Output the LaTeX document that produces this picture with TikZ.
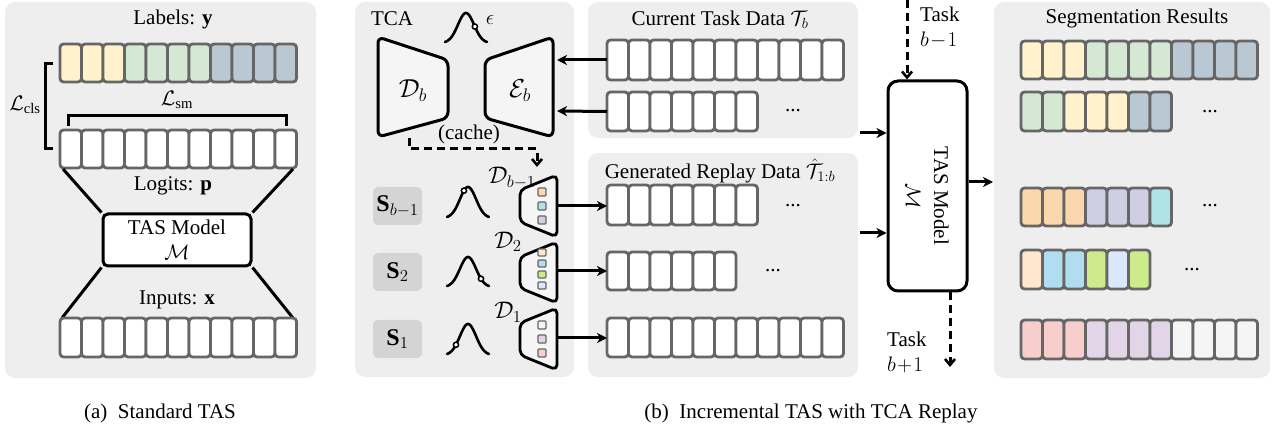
\RequirePackage{fix-cm}
\documentclass[tikz,border=0pt]{standalone}
\usepackage{fontspec}
\setmainfont{Liberation Serif}
\usetikzlibrary{arrows.meta}
\definecolor{panelbg}{HTML}{EEEEEE}
\definecolor{cellgray}{HTML}{666666}
\definecolor{decfill}{HTML}{F5F5F5}
\definecolor{sbox}{HTML}{D4D4D4}
\definecolor{cY}{HTML}{FFF2CC}
\definecolor{cG}{HTML}{D5E8D4}
\definecolor{cB}{HTML}{BAC8D3}
\definecolor{cO}{HTML}{FAD7AC}
\definecolor{cP}{HTML}{D0CEE2}
\definecolor{cC}{HTML}{B0E3E6}
\definecolor{cLO}{HTML}{FFE6CC}
\definecolor{cBl}{HTML}{B1DDF0}
\definecolor{cLi}{HTML}{CDEB8B}
\definecolor{cLB}{HTML}{DAE8FC}
\definecolor{cPk}{HTML}{F8CECC}
\definecolor{cLP}{HTML}{E1D5E7}
\definecolor{cLG}{HTML}{F5F5F5}
\newcommand{\segbar}[5]{%
  \foreach \c [count=\i from 0] in {#5}{%
    \draw[cellst, fill=\c] ({#2+\i*21.5},#3) rectangle ({#2+\i*21.5+21.5},#4);
  }%
  \coordinate (#1) at (#2,{(#3+#4)/2});%
}
\newcommand{\gaussc}[5]{%
  \draw[gss] plot[domain=-2.6:2.6,samples=50,smooth] ({#1+\x*#4/2.6},{#3-(#3-#2)*exp(-(\x)^2/2)});
  \draw[mrk] ({#1+(#5)*#4/2.6},{#3-(#3-#2)*exp(-((#5)^2)/2)}) circle (2.6);
}
\begin{document}
\begin{tikzpicture}[x=1pt,y=-1pt,
  every node/.style={font=\fontsize{21}{25}\selectfont, inner sep=0pt},
  big/.style={font=\fontsize{26}{30}\selectfont},
  mid/.style={font=\fontsize{24}{28}\selectfont},
  panel/.style={fill=panelbg, rounded corners=10pt},
  cellst/.style={draw=cellgray, line width=2.8pt, rounded corners=3.5pt},
  brk/.style={line width=3pt, line join=miter},
  arr/.style={line width=3pt, -{Stealth[length=10pt,width=10pt,inset=3pt]}},
  darr/.style={line width=3pt, dash pattern=on 8pt off 5pt, -{Straight Barb[length=6pt,width=10pt,line width=2.6pt]}},
  dec/.style={draw=black, fill=decfill, line width=3pt, rounded corners=6pt, line join=round},
  sdec/.style={draw=black, fill=decfill, line width=2.8pt, rounded corners=5pt, line join=round},
  sq/.style={draw=cellgray, line width=1.2pt, rounded corners=1pt},
  tasbox/.style={draw=black, fill=white, line width=3pt, rounded corners=5pt},
  sbx/.style={fill=sbox, rounded corners=5pt, minimum width=49pt, minimum height=38pt},
  gss/.style={line width=2.6pt, line cap=round},
  mrk/.style={draw=black, fill=white, line width=1.5pt}]
\path[use as bounding box] (0,0) rectangle (1272,430);

% ---------------- panel (a)
\path[panel] (5,2) rectangle (316,378);
\node (lblY) at (173,19) {Labels: $\mathbf{y}$};
\segbar{labY}{60}{44}{82}{cY,cY,cY,cG,cG,cG,cG,cB,cB,cB,cB}
\draw[brk] (53,64) -- (45,64) -- (45,149) -- (53,149);
\node (Lcls) at (25,105) {$\mathcal{L}_{\mathrm{cls}}$};
\draw[brk] (68,126) -- (68,116) -- (286,116) -- (286,126);
\node (Lsm) at (177,100) {$\mathcal{L}_{\mathrm{sm}}$};
\segbar{logit}{60}{130}{168}{white,white,white,white,white,white,white,white,white,white,white}
\node (lblP) at (173,186) {Logits: $\mathbf{p}$};
\node[tasbox, minimum width=148pt, minimum height=52pt, align=center] (tasA) at (177,240) {TAS Model\\[0pt]$\mathcal{M}$};
\coordinate (la1) at (63,169);
\coordinate (la2) at (293,169);
\coordinate (lb1) at (62,318);
\coordinate (lb2) at (293,318);
\draw[brk] (la1) -- (tasA.north west);
\draw[brk] (la2) -- (tasA.north east);
\draw[brk] (lb1) -- (tasA.south west);
\draw[brk] (lb2) -- (tasA.south east);
\node (lblX) at (177,300) {Inputs: $\mathbf{x}$};
\segbar{inp}{60}{318}{357}{white,white,white,white,white,white,white,white,white,white,white}
\node (capA) at (160,413) {(a)\enspace Standard TAS};

% ---------------- panel TCA
\path[panel] (355,2) rectangle (574,377);
\node (tca) at (392,19) {TCA};
\gaussc{466}{13}{43}{21}{1.1}
\node (eps) at (490,20) {$\epsilon$};
\draw[dec] (378,37) -- (448,60) -- (448,118) -- (378,137) -- cycle;
\node[big] (Db) at (413,91) {$\mathcal{D}_b$};
\draw[dec] (485,60) -- (553,37) -- (553,137) -- (485,118) -- cycle;
\node[big] (Eb) at (520,91) {$\mathcal{E}_b$};
\node (cache) at (469,134) {(cache)};
\coordinate (cs) at (409,138);
\coordinate (ce) at (537,167);
\draw[darr] (cs) -- (409,149) -- (537,149) -- (ce);
\coordinate (ebin1) at (557,60);
\coordinate (ebin2) at (557,111);

% S boxes, gaussians, small decoders
\node[sbx, mid] (S3) at (397.5,206) {$\mathbf{S}_{b-1}$};
\node[sbx, mid] (S2) at (397.5,272) {$\mathbf{S}_{2}$};
\node[sbx, mid] (S1) at (397.5,339) {$\mathbf{S}_{1}$};
\gaussc{468}{187}{218}{21}{-0.5}
\gaussc{468}{257}{287}{21}{1.61}
\gaussc{468}{324}{355}{21}{-1.49}

\draw[sdec] (520,190) -- (557,175) -- (557,237) -- (520,222) -- cycle;
\draw[sq, fill=cO] (538,188) rectangle (546,196);
\draw[sq, fill=cC] (538,202) rectangle (546,210);
\draw[sq, fill=cP] (538,216) rectangle (546,224);
\node[mid] (D3) at (512,178) {$\mathcal{D}_{b-1}$};
\coordinate (d3o) at (557,206);

\draw[sdec] (520,257) -- (557,242) -- (557,303) -- (520,288) -- cycle;
\draw[sq, fill=cLO] (538,249) rectangle (546,256);
\draw[sq, fill=cBl] (538,260) rectangle (546,267);
\draw[sq, fill=cLi] (538,271) rectangle (546,278);
\draw[sq, fill=cLB] (538,282) rectangle (546,289);
\node[mid] (D2) at (508,242) {$\mathcal{D}_{2}$};
\coordinate (d2o) at (557,271);

\draw[sdec] (520,323) -- (557,308) -- (557,370) -- (520,355) -- cycle;
\draw[sq, fill=cLG] (538,321) rectangle (546,329);
\draw[sq, fill=cLP] (538,335) rectangle (546,343);
\draw[sq, fill=cPk] (538,349) rectangle (546,357);
\node[mid] (D1) at (508,312) {$\mathcal{D}_{1}$};
\coordinate (d1o) at (557,338);

% ---------------- current task data
\path[panel] (588,2) rectangle (858,138);
\node (curT) at (720,20) {Current Task Data $\mathcal{T}_b$};
\segbar{cur1}{607}{40}{80}{white,white,white,white,white,white,white,white,white,white,white}
\segbar{cur2}{607}{92}{131}{white,white,white,white,white,white,white}
\node[anchor=base] (dotc) at (793,112) {...};
\draw[arr] (cur1) -- (ebin1);
\draw[arr] (cur2) -- (ebin2);

% ---------------- generated replay data
\path[panel] (588,153) rectangle (858,377);
\node (repT) at (720,171) {Generated Replay Data $\hat{\mathcal{T}}_{1:b}$};
\segbar{rep1}{607}{185}{225}{white,white,white,white,white,white,white}
\segbar{rep2}{607}{252}{290}{white,white,white,white,white,white}
\segbar{rep3}{607}{318}{357}{white,white,white,white,white,white,white,white,white,white,white}
\node[anchor=base] (dotr1) at (793,207) {...};
\node[anchor=base] (dotr2) at (773,272) {...};
\draw[arr] (d3o) -- (d3o -| rep1);
\draw[arr] (d2o) -- (d2o -| rep2);
\draw[arr] (d1o) -- (d1o -| rep3);

% ---------------- TAS model
\node[draw=black, line width=3pt, rounded corners=10pt, fill=white, minimum width=79pt, minimum height=210pt] (tas) at (927.5,186) {};
\node[rotate=-90, align=center] (tastxt) at (927.5,196) {TAS Model\\[3pt]$\mathcal{M}$};
\coordinate (in1) at (860,133);
\coordinate (in2) at (860,233);
\draw[arr] (in1) -- (in1 -| tas.west);
\draw[arr] (in2) -- (in2 -| tas.west);
\coordinate (tprev) at (907,0);
\draw[darr] (tprev) -- (tprev |- tas.north);
\node[anchor=west, align=left] (tpl) at (920,28) {Task\\$b\!-\!1$};
\coordinate (tnext) at (950,367);
\draw[darr] (tnext |- tas.south) -- (tnext);
\node[anchor=west, align=left] (tnl) at (887,352) {Task\\$b\!+\!1$};
\coordinate (segin) at (993,182);
\draw[arr] (tas.east |- segin) -- (segin);
\node (capB) at (811,413) {(b)\enspace Incremental TAS with TCA Replay};

% ---------------- segmentation results
\path[panel] (994,2) rectangle (1270,378);
\node (segT) at (1137,18) {Segmentation Results};
\segbar{seg1}{1021}{41}{79}{cY,cY,cY,cG,cG,cG,cG,cB,cB,cB,cB}
\segbar{seg2}{1021}{92}{131}{cG,cG,cY,cY,cY,cB,cB}
\segbar{seg3}{1021}{188}{226}{cO,cO,cO,cP,cP,cP,cC}
\segbar{seg4}{1021}{250}{289}{cLO,cBl,cBl,cLi,cLB,cLi}
\segbar{seg5}{1021}{320}{359}{cPk,cPk,cPk,cLP,cLP,cLP,cLP,cLG,cLG,cLG,cLG}
\node[anchor=base] (dots1) at (1210,113) {...};
\node[anchor=base] (dots2) at (1210,207) {...};
\node[anchor=base] (dots3) at (1192,271) {...};
\end{tikzpicture}
\end{document}
